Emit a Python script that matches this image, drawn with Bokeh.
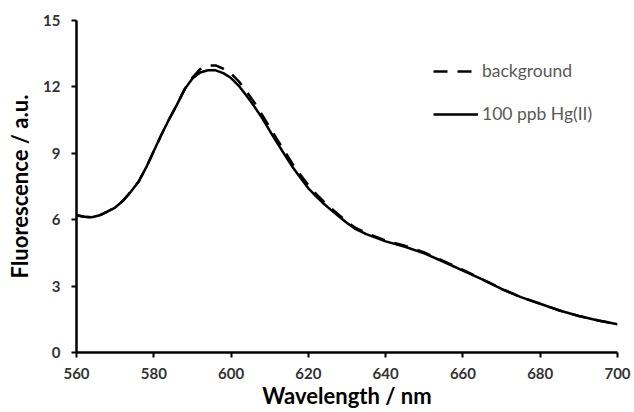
from bokeh.plotting import figure
from bokeh.models import Range1d, FixedTicker, Legend, LegendItem
from bokeh.embed import file_html
from bokeh.resources import INLINE

wavelength = [560, 562, 564, 566, 568, 570, 572, 574, 576, 578, 580, 582, 584, 586, 588,
              590, 592, 594, 596, 598, 600, 602, 604, 606, 608, 610, 612, 614, 616, 618,
              620, 622, 624, 626, 628, 630, 632, 635, 640, 645, 650, 655, 660, 665, 670,
              675, 680, 685, 690, 695, 700]
hg_100ppb = [6.2, 6.13, 6.11, 6.2, 6.37, 6.55, 6.85, 7.25, 7.7, 8.35, 9.1, 9.85, 10.55, 11.2, 11.9,
             12.38, 12.65, 12.75, 12.75, 12.62, 12.4, 12.05, 11.6, 11.12, 10.6, 10.02, 9.45, 8.9, 8.36, 7.88,
             7.42, 7.05, 6.72, 6.42, 6.13, 5.85, 5.6, 5.35, 5.02, 4.78, 4.48, 4.1, 3.7, 3.3, 2.87,
             2.5, 2.2, 1.9, 1.65, 1.45, 1.28]
background = [6.2, 6.13, 6.11, 6.2, 6.37, 6.55, 6.85, 7.25, 7.7, 8.35, 9.1, 9.85, 10.55, 11.2, 11.9,
              12.42, 12.8, 12.97, 12.97, 12.82, 12.6, 12.25, 11.8, 11.3, 10.75, 10.18, 9.6, 9.05, 8.5, 8.02,
              7.55, 7.17, 6.82, 6.5, 6.2, 5.92, 5.65, 5.4, 5.06, 4.82, 4.52, 4.13, 3.73, 3.31, 2.88,
              2.5, 2.2, 1.9, 1.65, 1.45, 1.28]
x_ticks = [560, 580, 600, 620, 640, 660, 680, 700]
y_ticks = [0, 3, 6, 9, 12, 15]

FONT = "Lato"

p = figure(width=634, height=412, output_backend="svg", toolbar_location=None,
           x_range=Range1d(560, 700), y_range=Range1d(0, 15),
           min_border_left=76, min_border_right=17, min_border_top=20, min_border_bottom=60)
p.outline_line_color = None
p.xgrid.grid_line_color = None
p.ygrid.grid_line_color = None

bg = p.line(wavelength, background, line_color="black", line_width=2.5, line_dash="14 10")
hg = p.line(wavelength, hg_100ppb, line_color="black", line_width=2.5)

for ax in (p.xaxis[0], p.yaxis[0]):
    ax.axis_line_width = 2.5
    ax.axis_line_color = "black"
    ax.major_tick_line_width = 2
    ax.major_tick_line_color = "black"
    ax.major_tick_in = 0
    ax.major_tick_out = 5
    ax.minor_tick_line_color = None
    ax.major_label_text_font = FONT
    ax.major_label_text_font_style = "bold"
    ax.major_label_text_font_size = "15px"
    ax.major_label_text_color = "#333333"
    ax.axis_label_text_font = FONT
    ax.axis_label_text_font_style = "bold"
    ax.axis_label_text_font_size = "22px"
    ax.axis_label_text_color = "black"

p.xaxis.ticker = FixedTicker(ticks=x_ticks)
p.yaxis.ticker = FixedTicker(ticks=y_ticks)
p.xaxis.axis_label = "Wavelength / nm"
p.yaxis.axis_label = "Fluorescence / a.u."
p.xaxis.major_label_standoff = 10
p.yaxis.major_label_standoff = 11
p.xaxis.axis_label_standoff = 0
p.yaxis.axis_label_standoff = 7

legend = Legend(items=[LegendItem(label="background", renderers=[bg]),
                       LegendItem(label="100 ppb Hg(II)", renderers=[hg])],
                location=(357, 228))
legend.background_fill_alpha = 0
legend.border_line_color = None
legend.padding = 0
legend.margin = 0
legend.spacing = 22
legend.glyph_width = 45
legend.glyph_height = 20
legend.label_standoff = 4
legend.label_text_font = FONT
legend.label_text_font_size = "17.5px"
legend.label_text_color = "#595959"
p.add_layout(legend, "center")

open("out.html", "w").write(file_html(p, INLINE))
